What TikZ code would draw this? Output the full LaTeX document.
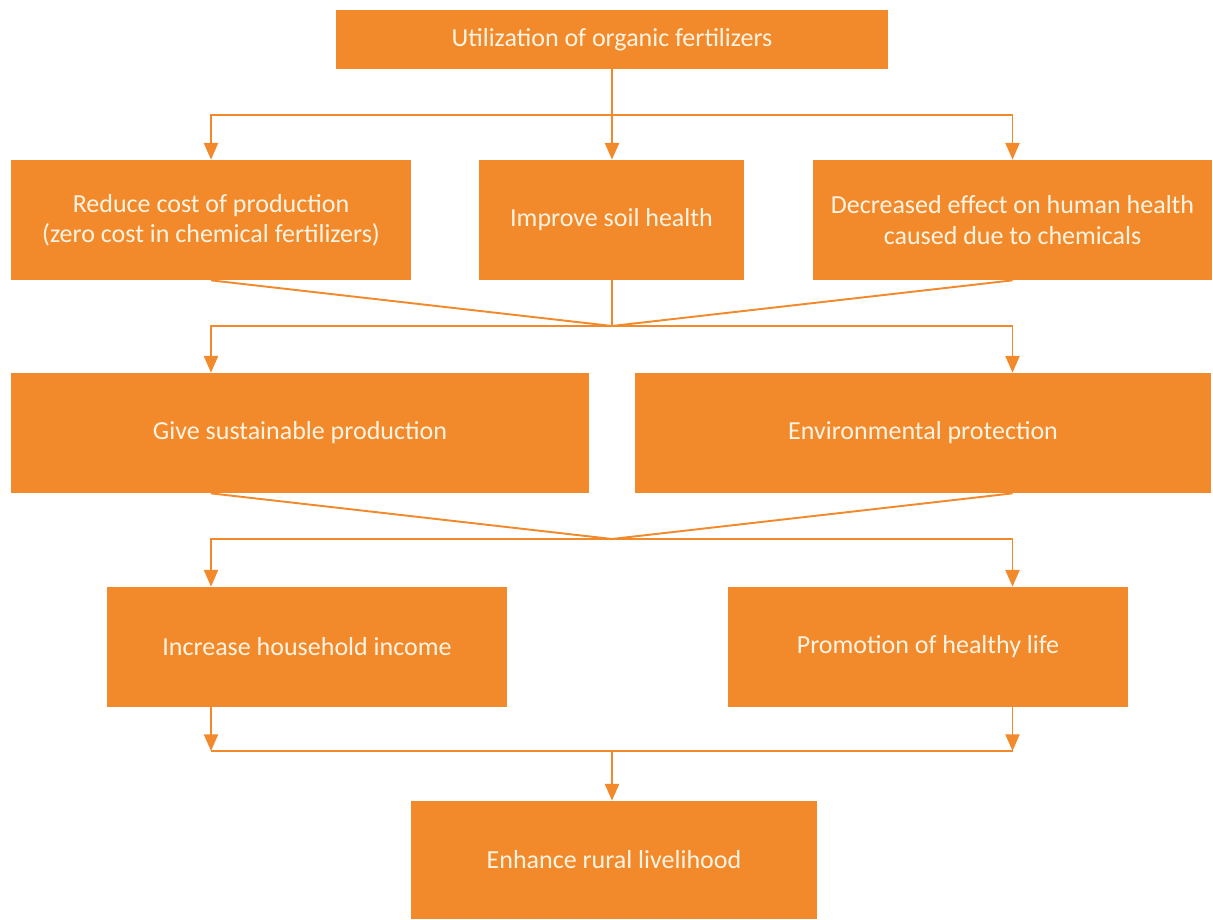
\documentclass[tikz,border=0pt]{standalone}
\usepackage{fontspec}
\setmainfont{Carlito}
\usepackage{xcolor}
\usetikzlibrary{arrows.meta}
\definecolor{fertorange}{HTML}{F28A2B}
\definecolor{boxtext}{HTML}{FFF4E4}

\begin{document}
\begin{tikzpicture}[
		box/.style={fill=fertorange, text=boxtext, align=center, inner sep=0pt, font=\fontsize{14.8}{17.2}\selectfont},
		link/.style={draw=fertorange, line width=1.1pt},
		arr/.style={link, -{Triangle[width=8pt,length=9.5pt]}}
	]
		\useasboundingbox (0,0) rectangle (24.26,-18.4);
		\node[box, minimum width=11.04cm, minimum height=1.18cm] (top) at (12.24,-0.79) {Utilization of organic fertilizers};
		\node[box, minimum width=8cm, minimum height=2.4cm] (A) at (4.22,-4.4) {Reduce cost of production\\(zero cost in chemical fertilizers)};
		\node[box, minimum width=5.3cm, minimum height=2.4cm] (B) at (12.23,-4.4) {Improve soil health};
		\node[box, minimum width=7.98cm, minimum height=2.4cm] (C) at (20.25,-4.4) {Decreased effect on human health\\caused due to chemicals};
		\node[box, minimum width=11.56cm, minimum height=2.4cm] (D) at (6.0,-8.66) {Give sustainable production};
		\node[box, minimum width=11.52cm, minimum height=2.4cm] (E) at (18.46,-8.66) {Environmental protection};
		\node[box, minimum width=8cm, minimum height=2.4cm] (F) at (6.14,-12.94) {Increase household income};
		\node[box, minimum width=8cm, minimum height=2.4cm] (G) at (18.56,-12.94) {Promotion of healthy life};
		\node[box, minimum width=8.12cm, minimum height=2.36cm] (H) at (12.28,-17.2) {Enhance rural livelihood};

		% first split
		\coordinate (j1) at (12.24,-2.3);
		\draw[link] (top.south) -- (j1);
		\draw[arr] (j1) -- (j1 |- B.north);
		\draw[arr] (j1) -| (A.north);
		\draw[arr] (j1) -| (C.north);

		% second row
		\coordinate (j2) at (12.24,-6.52);
		\draw[link] (A.south) -- (j2);
		\draw[link] (j2 |- B.south) -- (j2);
		\draw[link] (C.south) -- (j2);
		\draw[arr] (j2) -| (A |- D.north);
		\draw[arr] (j2) -| (C |- E.north);

		% third row
		\coordinate (j3) at (12.24,-10.78);
		\draw[link] (A |- D.south) -- (j3);
		\draw[link] (C |- E.south) -- (j3);
		\draw[arr] (j3) -| (A |- F.north);
		\draw[arr] (j3) -| (C |- G.north);

		% last row
		\coordinate (j4) at (12.24,-15.02);
		\draw[arr] (A |- F.south) -- (A |- j4);
		\draw[arr] (C |- G.south) -- (C |- j4);
		\draw[link] (A |- j4) -- (C |- j4);
		\draw[arr] (j4) -- (j4 |- H.north);
\end{tikzpicture}
\end{document}
